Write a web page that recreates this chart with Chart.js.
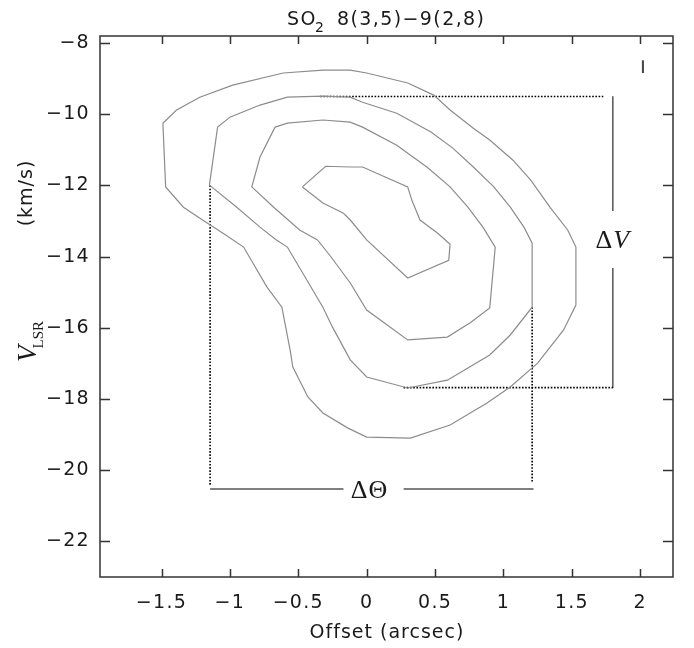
<!DOCTYPE html>
<html>
<head>
<meta charset="utf-8">
<script src="https://cdn.jsdelivr.net/npm/chart.js@4"></script>
<style>
  html, body { margin: 0; padding: 0; background: #fff; }
</style>
</head>
<body>
<canvas id="pv" width="694" height="648"></canvas>
<script>
// SO2 8(3,5)-9(2,8) position-velocity contours, [offset arcsec, V_LSR km/s]
const contour1 = [[-1.49,-10.25],[-1.39,-9.88],[-1.22,-9.52],[-0.98,-9.18],[-0.61,-8.84],[-0.32,-8.76],[-0.12,-8.76],[0.00,-8.84],[0.30,-9.12],[0.49,-9.46],[0.61,-9.88],[0.78,-10.39],[0.90,-10.72],[1.07,-11.29],[1.20,-11.85],[1.34,-12.61],[1.47,-13.25],[1.53,-13.73],[1.53,-15.36],[1.44,-16.06],[1.25,-16.99],[1.05,-17.66],[0.88,-18.11],[0.61,-18.73],[0.32,-19.10],[0.00,-19.07],[-0.14,-18.81],[-0.32,-18.39],[-0.43,-17.94],[-0.54,-17.10],[-0.56,-16.62],[-0.62,-15.42],[-0.73,-14.85],[-0.90,-13.73],[-1.05,-13.34],[-1.20,-12.97],[-1.34,-12.61],[-1.47,-12.04],[-1.49,-10.25]];
const contour2 = [[-1.15,-11.99],[-1.09,-10.36],[-1.00,-10.08],[-0.78,-9.74],[-0.58,-9.52],[-0.32,-9.49],[-0.12,-9.52],[-0.03,-9.66],[0.22,-9.97],[0.47,-10.50],[0.63,-10.95],[0.78,-11.48],[0.93,-12.04],[1.05,-12.61],[1.15,-13.17],[1.21,-13.62],[1.21,-15.42],[1.05,-16.20],[0.90,-16.76],[0.59,-17.47],[0.30,-17.69],[0.00,-17.38],[-0.12,-16.90],[-0.25,-15.98],[-0.32,-15.42],[-0.58,-13.73],[-0.66,-13.53],[-0.78,-13.17],[-0.95,-12.61],[-1.15,-11.99]];
const contour3 = [[-0.67,-10.36],[-0.58,-10.25],[-0.32,-10.16],[-0.12,-10.22],[-0.03,-10.36],[0.22,-10.87],[0.44,-11.48],[0.61,-12.04],[0.74,-12.61],[0.85,-13.17],[0.94,-13.73],[0.90,-15.44],[0.76,-15.85],[0.59,-16.26],[0.30,-16.34],[0.00,-15.50],[-0.12,-14.74],[-0.27,-13.96],[-0.36,-13.53],[-0.49,-13.25],[-0.68,-12.61],[-0.84,-12.04],[-0.78,-11.20],[-0.67,-10.36]];
const contour4 = [[-0.47,-12.04],[-0.30,-11.46],[-0.12,-11.48],[-0.03,-11.48],[0.30,-12.04],[0.33,-12.41],[0.39,-12.97],[0.52,-13.34],[0.61,-13.65],[0.60,-14.10],[0.30,-14.60],[0.00,-13.53],[-0.12,-12.97],[-0.17,-12.78],[-0.32,-12.49],[-0.47,-12.04]];

// dotted box marking the extent of the second contour
const boxTop = [[-0.34,-9.50],[1.73,-9.50]];
const boxBottom = [[0.27,-17.68],[1.80,-17.68]];
const boxLeft = [[-1.145,-12.0],[-1.145,-20.42]];
const boxRight = [[1.21,-15.42],[1.21,-20.33]];

// solid measuring bars for the size and velocity spread
const thetaBarLeft = [[-1.145,-20.53],[-0.17,-20.53]];
const thetaBarRight = [[0.27,-20.53],[1.22,-20.53]];
const velBarTop = [[1.80,-9.49],[1.80,-12.72]];
const velBarBottom = [[1.80,-14.32],[1.80,-17.69]];
const resolutionBar = [[2.02,-8.48],[2.02,-8.84]];

const xTicks = [-1.5, -1, -0.5, 0, 0.5, 1, 1.5, 2];
const yTicks = [-8, -10, -12, -14, -16, -18, -20, -22];
const xRange = [-1.95, 2.24];
const yRange = [-23, -7.8];

const toPts = (arr) => arr.map(([x, y]) => ({ x, y }));
const minus = (v) => String(v).replace('-', '\u2212');

function lineSet(data, color, width, dash) {
  return {
    data: toPts(data),
    showLine: true,
    borderColor: color,
    borderWidth: width,
    borderDash: dash || [],
    pointRadius: 0,
    fill: false,
    tension: 0
  };
}

const contourColor = '#8c8c8c';
const barColor = '#555';
const dotColor = '#000';

const frameAndTicks = {
  id: 'frameAndTicks',
  beforeDraw(chart) {
    chart.ctx.letterSpacing = '1.3px';
  },
  afterDatasetsDraw(chart) {
    const { ctx, chartArea: a, scales: { x, y } } = chart;
    ctx.save();
    ctx.strokeStyle = '#333';
    ctx.lineWidth = 1.5;
    ctx.strokeRect(a.left, a.top, a.right - a.left, a.bottom - a.top);
    ctx.beginPath();
    xTicks.forEach((v) => {
      const px = Math.round(x.getPixelForValue(v)) + 0.5;
      ctx.moveTo(px, a.bottom); ctx.lineTo(px, a.bottom - 8);
      ctx.moveTo(px, a.top); ctx.lineTo(px, a.top + 8);
    });
    yTicks.forEach((v) => {
      const py = Math.round(y.getPixelForValue(v)) + 0.5;
      ctx.moveTo(a.left, py); ctx.lineTo(a.left + 10, py);
      ctx.moveTo(a.right, py); ctx.lineTo(a.right - 10, py);
    });
    ctx.stroke();
    ctx.restore();
  }
};

const labels = {
  id: 'labels',
  afterDraw(chart) {
    const { ctx, scales: { x, y } } = chart;
    const sans = '"DejaVu Sans", sans-serif';
    const serif = '"Liberation Serif", "DejaVu Serif", serif';
    ctx.save();
    ctx.fillStyle = '#1a1a1a';

    // title with subscript 2
    ctx.letterSpacing = '1.4px';
    ctx.textAlign = 'left';
    ctx.textBaseline = 'alphabetic';
    ctx.font = '19px ' + sans;
    ctx.fillText('SO', 287, 25);
    ctx.font = '14px ' + sans;
    ctx.fillText('2', 315, 32);
    ctx.font = '19px ' + sans;
    ctx.fillText('8(3,5)\u22129(2,8)', 337, 25);

    // x axis title
    ctx.letterSpacing = '1px';
    ctx.textAlign = 'center';
    ctx.fillText('Offset (arcsec)', 387, 638);

    // y axis title: V_LSR and (km/s), rotated
    ctx.save();
    ctx.translate(27, 193);
    ctx.rotate(-Math.PI / 2);
    ctx.textBaseline = 'middle';
    ctx.font = '19px ' + sans;
    ctx.fillText('(km/s)', 0, 0);
    ctx.restore();

    ctx.save();
    ctx.letterSpacing = '0px';
    ctx.translate(36, 362);
    ctx.rotate(-Math.PI / 2);
    ctx.textAlign = 'left';
    ctx.textBaseline = 'alphabetic';
    ctx.font = 'italic 27px ' + serif;
    ctx.fillText('V', 0, 0);
    const vw = ctx.measureText('V').width;
    ctx.font = '15px ' + serif;
    ctx.fillText('LSR', vw - 3, 7);
    ctx.restore();

    // delta labels placed in data coordinates
    ctx.letterSpacing = '1px';
    ctx.textBaseline = 'alphabetic';
    ctx.textAlign = 'left';
    const dvX = x.getPixelForValue(1.80);
    const dvY = y.getPixelForValue(-13.52) + 8;
    ctx.font = '26px ' + serif;
    const dW = ctx.measureText('\u0394').width;
    ctx.font = 'italic 26px ' + serif;
    const vW = ctx.measureText('V').width;
    const sx = dvX - (dW + vW) / 2;
    ctx.font = '26px ' + serif;
    ctx.fillText('\u0394', sx, dvY);
    ctx.font = 'italic 26px ' + serif;
    ctx.fillText('V', sx + dW, dvY);

    ctx.textAlign = 'center';
    ctx.font = '26px ' + serif;
    ctx.fillText('\u0394\u0398', x.getPixelForValue(0.02), y.getPixelForValue(-20.53) + 9);
    ctx.restore();
  }
};

new Chart(document.getElementById('pv'), {
  type: 'scatter',
  data: {
    datasets: [
      lineSet(contour1, contourColor, 1.2),
      lineSet(contour2, contourColor, 1.2),
      lineSet(contour3, contourColor, 1.2),
      lineSet(contour4, contourColor, 1.2),
      lineSet(boxTop, dotColor, 1.6, [1.6, 1.6]),
      lineSet(boxBottom, dotColor, 1.6, [1.6, 1.6]),
      lineSet(boxLeft, dotColor, 1.6, [1.6, 1.6]),
      lineSet(boxRight, dotColor, 1.6, [1.6, 1.6]),
      lineSet(thetaBarLeft, barColor, 1.5),
      lineSet(thetaBarRight, barColor, 1.5),
      lineSet(velBarTop, barColor, 1.5),
      lineSet(velBarBottom, barColor, 1.5),
      lineSet(resolutionBar, '#444', 2)
    ]
  },
  options: {
    responsive: false,
    animation: false,
    devicePixelRatio: 1,
    layout: { padding: { top: 36, right: 21, left: 0, bottom: 0 } },
    plugins: {
      legend: { display: false },
      tooltip: { enabled: false }
    },
    scales: {
      x: {
        type: 'linear',
        min: xRange[0],
        max: xRange[1],
        afterBuildTicks: (scale) => { scale.ticks = xTicks.map((v) => ({ value: v })); },
        afterFit: (scale) => { scale.height = 71; },
        grid: { display: false, drawTicks: false },
        border: { display: false },
        ticks: {
          autoSkip: false,
          maxRotation: 0,
          padding: 15,
          color: '#1a1a1a',
          font: { family: '"DejaVu Sans", sans-serif', size: 19 },
          callback: (v) => minus(v)
        }
      },
      y: {
        type: 'linear',
        min: yRange[0],
        max: yRange[1],
        afterBuildTicks: (scale) => { scale.ticks = yTicks.map((v) => ({ value: v })); },
        afterFit: (scale) => { scale.width = 100; },
        grid: { display: false, drawTicks: false },
        border: { display: false },
        ticks: {
          autoSkip: false,
          padding: 10,
          color: '#1a1a1a',
          font: { family: '"DejaVu Sans", sans-serif', size: 19 },
          callback: (v) => minus(v)
        }
      }
    }
  },
  plugins: [frameAndTicks, labels]
});
</script>
</body>
</html>
